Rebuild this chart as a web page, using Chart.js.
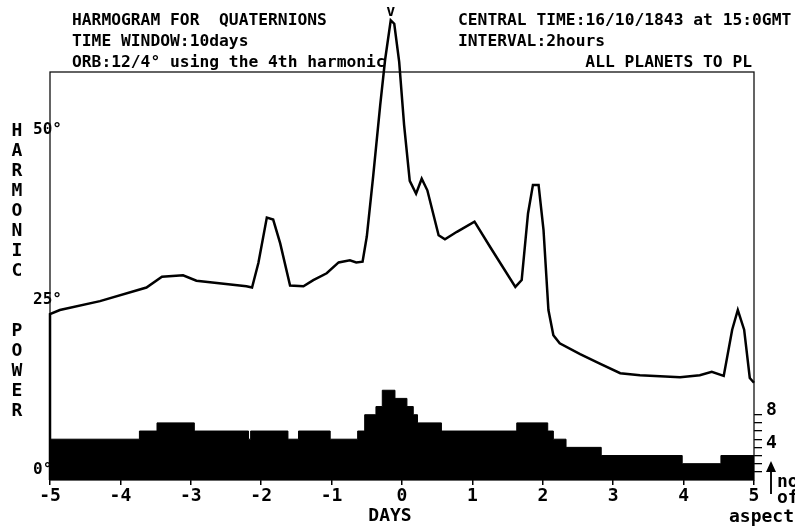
<!DOCTYPE html>
<html>
<head>
<meta charset="utf-8">
<title>Harmogram for Quaternions</title>
<script src="https://cdn.jsdelivr.net/npm/chart.js@4.4.1/dist/chart.umd.min.js"></script>
<style>
  html, body { margin: 0; padding: 0; background: #fff; }
  #chart { display: block; }
</style>
</head>
<body>
<canvas id="chart" width="795" height="526"></canvas>
<script>
// harmonic power curve: days from central time -> degrees
const powerDays = [-5, -5, -4.86, -4.29, -3.63, -3.41, -3.11, -2.92, -2.21, -2.13,
  -2.04, -1.92, -1.83, -1.73, -1.59, -1.40, -1.26, -1.07, -0.90, -0.74,
  -0.65, -0.56, -0.50, -0.41, -0.31, -0.24, -0.16, -0.11, -0.04, 0.03,
  0.11, 0.20, 0.28, 0.36, 0.52, 0.61, 0.78, 1.03, 1.25, 1.61,
  1.70, 1.79, 1.86, 1.94, 2.01, 2.08, 2.15, 2.24, 2.53, 2.81,
  3.10, 3.38, 3.95, 4.23, 4.40, 4.57, 4.69, 4.77, 4.86, 4.94, 5.00];
const powerValues = [0, 24.4, 25.0, 26.3, 28.3, 29.9, 30.1, 29.3, 28.5, 28.3,
  31.9, 38.6, 38.3, 34.8, 28.6, 28.5, 29.4, 30.4, 32.0, 32.3,
  32.0, 32.1, 35.8, 44.6, 55.1, 61.8, 67.6, 67.1, 61.5, 52.2,
  44.0, 42.1, 44.3, 42.6, 36.0, 35.4, 36.5, 38.0, 34.3, 28.4,
  29.4, 39.2, 43.4, 43.4, 36.8, 25.0, 21.3, 20.1, 18.5, 17.1,
  15.7, 15.4, 15.1, 15.4, 15.9, 15.3, 22.1, 25.0, 22.1, 15.0, 14.3];

// number of aspects: each count holds from its day until the next one
const aspectDays = [-5, -3.73, -3.48, -2.95, -2.18, -2.15, -1.62, -1.47, -1.02, -0.63,
  -0.53, -0.37, -0.28, -0.10, 0.07, 0.16, 0.22, 0.56, 1.63, 2.07,
  2.15, 2.33, 2.83, 3.98, 4.53, 5];
const aspectCounts = [5, 6, 7, 6, 5, 6, 5, 6, 5, 6,
  8, 9, 11, 10, 9, 8, 7, 6, 7, 6,
  5, 4, 3, 2, 3, 3];

// ticks
const dayTicks = [-5, -4, -3, -2, -1, 0, 1, 2, 3, 4, 5];
const powerTicks = [0, 25, 50];
const aspectTicks = [1, 2, 3, 4, 5, 6, 7, 8];
const aspectLabels = [4, 8];

// texts
const headerLeft = ['HARMOGRAM FOR  QUATERNIONS', 'TIME WINDOW:10days', 'ORB:12/4\u00b0 using the 4th harmonic'];
const headerRight = ['CENTRAL TIME:16/10/1843 at 15:0GMT', 'INTERVAL:2hours'];
const headerRightLast = 'ALL PLANETS TO PL';
const sideTitle = 'HARMONIC  POWER';
const xTitle = 'DAYS';
const aspectTitle = ['no', 'of', 'aspects'];

const MONO = '"DejaVu Sans Mono", monospace';

const decorations = {
  id: 'decorations',
  beforeDatasetsDraw(chart) {
    const ctx = chart.ctx;
    const a = chart.chartArea;
    ctx.save();
    ctx.fillStyle = '#000';
    ctx.strokeStyle = '#111';

    // frame
    ctx.lineWidth = 1.3;
    ctx.strokeRect(a.left, a.top, a.right - a.left, a.bottom - a.top);

    // header
    ctx.font = 'bold 16.3px ' + MONO;
    ctx.textAlign = 'left';
    ctx.textBaseline = 'alphabetic';
    headerLeft.forEach((t, i) => ctx.fillText(t, 72, 25 + i * 21));
    headerRight.forEach((t, i) => ctx.fillText(t, 458, 25 + i * 21));
    ctx.textAlign = 'right';
    ctx.fillText(headerRightLast, 752, 67);

    // vertical side title
    ctx.font = 'bold 18px ' + MONO;
    ctx.textAlign = 'center';
    ctx.textBaseline = 'middle';
    [...sideTitle].forEach((ch, i) => {
      if (ch !== ' ') ctx.fillText(ch, 17, 131 + i * 20);
    });

    // x title
    ctx.fillText(xTitle, 390, 516);

    // arrow + "no of aspects"
    ctx.lineWidth = 2;
    ctx.beginPath();
    ctx.moveTo(771, 468);
    ctx.lineTo(771, 494);
    ctx.stroke();
    ctx.beginPath();
    ctx.moveTo(771, 461);
    ctx.lineTo(766, 472);
    ctx.lineTo(776, 472);
    ctx.closePath();
    ctx.fill();
    ctx.textAlign = 'left';
    ctx.fillText(aspectTitle[0], 777, 482);
    ctx.fillText(aspectTitle[1], 777, 498);
    ctx.fillText(aspectTitle[2], 729, 517);

    // marker over the highest point
    const x = chart.scales.x;
    const y = chart.scales.y;
    const top = powerValues.indexOf(Math.max(...powerValues));
    ctx.font = 'bold 15px ' + MONO;
    ctx.textAlign = 'center';
    ctx.textBaseline = 'bottom';
    ctx.fillText('v', x.getPixelForValue(powerDays[top]), y.getPixelForValue(powerValues[top]) - 1);
    ctx.restore();
  }
};

const tickFont = { family: MONO, size: 18, weight: 'bold' };

new Chart(document.getElementById('chart'), {
  type: 'line',
  data: {
    datasets: [
      {
        label: 'Harmonic power',
        data: powerDays.map((d, i) => ({ x: d, y: powerValues[i] })),
        yAxisID: 'y',
        borderColor: '#000',
        borderWidth: 2.5,
        pointRadius: 0,
        tension: 0,
        fill: false,
        clip: false,
        order: 0
      },
      {
        label: 'No of aspects',
        data: aspectDays.map((d, i) => ({ x: d, y: aspectCounts[i] })),
        yAxisID: 'y2',
        stepped: true,
        borderColor: '#000',
        borderWidth: 1,
        backgroundColor: '#000',
        fill: 'origin',
        pointRadius: 0,
        order: 1
      }
    ]
  },
  options: {
    responsive: false,
    animation: false,
    layout: { padding: { left: 33, top: 72, right: 0, bottom: 0 } },
    plugins: {
      legend: { display: false },
      tooltip: { enabled: false },
      title: { display: false }
    },
    scales: {
      x: {
        type: 'linear',
        min: -5,
        max: 5,
        afterBuildTicks: s => { s.ticks = dayTicks.map(v => ({ value: v })); },
        afterFit: s => { s.height = 46; },
        grid: { drawOnChartArea: false, drawTicks: true, tickLength: 5, color: '#000', lineWidth: 1.5 },
        border: { display: false },
        ticks: { font: tickFont, color: '#000', padding: 1, maxRotation: 0, autoSkip: false }
      },
      y: {
        position: 'left',
        min: 0,
        max: 60,
        afterBuildTicks: s => { s.ticks = powerTicks.map(v => ({ value: v })); },
        afterFit: s => { s.width = 17; },
        grid: { display: false },
        border: { display: false },
        ticks: {
          // mirrored so the labels may overlap the frame line, as in the original
          font: { family: MONO, size: 16, weight: 'bold' }, color: '#000',
          mirror: true, padding: -17, labelOffset: -10,
          callback: v => v + '\u00b0'
        }
      },
      y2: {
        position: 'right',
        min: 0,
        max: 50,
        afterBuildTicks: s => { s.ticks = aspectTicks.map(v => ({ value: v })); },
        afterFit: s => { s.width = 41; },
        grid: { drawOnChartArea: false, drawTicks: true, tickLength: 8, color: '#000', lineWidth: 1.3 },
        border: { display: false },
        ticks: {
          font: tickFont, color: '#000', padding: 4, autoSkip: false, labelOffset: -4,
          callback: v => aspectLabels.includes(v) ? String(v) : ''
        }
      }
    }
  },
  plugins: [decorations]
});
</script>
</body>
</html>
